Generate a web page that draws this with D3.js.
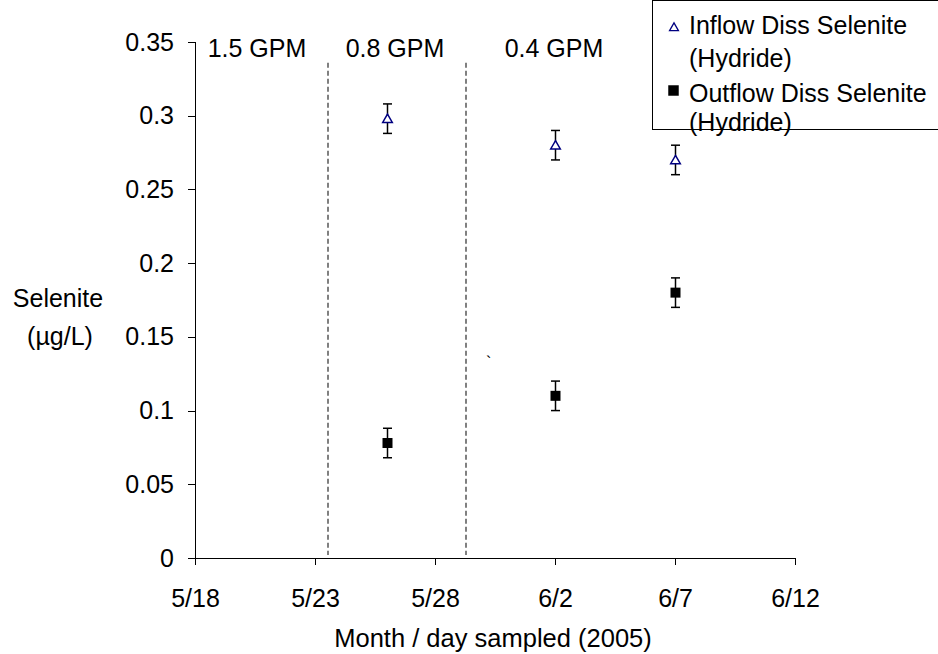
<!DOCTYPE html>
<meta charset="utf-8">
<style>
	body{ margin:0; background:#fff; }
	text{ font-family: Arial, "Liberation Sans", sans-serif; fill:#000; }
	.axis path, .axis line{ stroke:#000; stroke-width:1; shape-rendering:crispEdges; }
	.axis text{ font-size:25px; font-family: Arial, "Liberation Sans", sans-serif; }
</style>
<body>
<svg width="938" height="654" id="chart"></svg>
<script src="https://d3js.org/d3.v7.min.js"></script>
<script>
	// data
	var xTicks = ["2005-05-18","2005-05-23","2005-05-28","2005-06-02","2005-06-07","2005-06-12"];
	var yTicks = [0, 0.05, 0.1, 0.15, 0.2, 0.25, 0.3, 0.35];
	var sampleDates = ["2005-05-26","2005-06-02","2005-06-07"];
	var inflow = [0.298, 0.28, 0.27];
	var outflow = [0.078, 0.11, 0.18];
	var errInflow = [0.01, 0.01, 0.01];
	var errOutflow = [0.01, 0.01, 0.01];
	var flowBreaks = ["2005-05-23T13:00","2005-05-29T07:00"];
	var flowLabels = [
		{ label:"1.5 GPM", at:"2005-05-20T14:00" },
		{ label:"0.8 GPM", at:"2005-05-26T08:00" },
		{ label:"0.4 GPM", at:"2005-06-01T23:00" }
	];

	var parse = d3.timeParse("%Y-%m-%d");
	var parseT = d3.timeParse("%Y-%m-%dT%H:%M");

	var svg = d3.select("#chart");
	var x = d3.scaleTime()
		.domain([parse(xTicks[0]), parse(xTicks[xTicks.length-1])])
		.range([195, 795]);
	var y = d3.scaleLinear().domain([0, 0.35]).range([558, 42]);

	// dashed flow-rate dividers
	svg.selectAll("line.brk").data(flowBreaks).enter().append("line")
		.attr("class","brk")
		.attr("x1", d => x(parseT(d))).attr("x2", d => x(parseT(d)))
		.attr("y1", y(0.336)).attr("y2", y(0.002))
		.attr("stroke","#808080").attr("stroke-width",2)
		.attr("stroke-dasharray","5,3");

	svg.selectAll("text.gpm").data(flowLabels).enter().append("text")
		.attr("class","gpm")
		.attr("x", d => x(parseT(d.at))).attr("y", 57)
		.attr("text-anchor","middle").style("font-size","25px")
		.text(d => d.label);

	// axes
	var yAxis = d3.axisLeft(y).tickValues(yTicks).tickSize(7).tickPadding(14)
		.tickFormat(d => d === 0 ? "0" : String(+d.toFixed(2)));
	svg.append("g").attr("class","axis").attr("transform","translate(195,0)").call(yAxis)
		.call(g => g.select(".domain").attr("d","M0,42V558"));

	var xAxis = d3.axisBottom(x).tickValues(xTicks.map(parse)).tickSize(7).tickPadding(24)
		.tickFormat(d3.timeFormat("%-m/%-d"));
	svg.append("g").attr("class","axis").attr("transform","translate(0,558)").call(xAxis)
		.call(g => g.select(".domain").attr("d","M195,0H795"));

	// error bars
	function errBars(vals, errs){
		var g = svg.append("g").attr("stroke","#000").attr("stroke-width",1.5);
		sampleDates.forEach(function(dt, i){
			var cx = Math.round(x(parse(dt))) + 0.5;
			var yt = y(vals[i] + errs[i]), yb = y(vals[i] - errs[i]);
			g.append("line").attr("x1",cx).attr("x2",cx).attr("y1",yt).attr("y2",yb);
			g.append("line").attr("x1",cx-4.5).attr("x2",cx+4.5).attr("y1",yt).attr("y2",yt);
			g.append("line").attr("x1",cx-4.5).attr("x2",cx+4.5).attr("y1",yb).attr("y2",yb);
		});
	}
	errBars(inflow, errInflow);
	errBars(outflow, errOutflow);

	var tri = d3.symbol().type(d3.symbolTriangle).size(40);
	var sq = d3.symbol().type(d3.symbolSquare).size(100);

	svg.selectAll("path.inflow").data(inflow).enter().append("path")
		.attr("class","inflow")
		.attr("d", tri)
		.attr("transform", (d,i) => "translate(" + (Math.round(x(parse(sampleDates[i])))+0.5) + "," + (y(d)+1) + ")")
		.attr("fill","#fff").attr("stroke","#000080").attr("stroke-width",1.5);

	svg.selectAll("path.outflow").data(outflow).enter().append("path")
		.attr("class","outflow")
		.attr("d", sq)
		.attr("transform", (d,i) => "translate(" + (Math.round(x(parse(sampleDates[i])))+0.5) + "," + y(d) + ")")
		.attr("fill","#000");

	// stray mark in the original
	svg.append("text").attr("x",486).attr("y",368).style("font-size","16px").text("`");

	// axis titles
	svg.append("text").attr("x",493).attr("y",647).attr("text-anchor","middle")
		.style("font-size","25.5px").text("Month / day sampled (2005)");
	svg.append("text").attr("x",58).attr("y",307).attr("text-anchor","middle")
		.style("font-size","25px").text("Selenite");
	svg.append("text").attr("x",60).attr("y",345).attr("text-anchor","middle")
		.style("font-size","25px").text("(µg/L)");

	// legend
	var leg = svg.append("g");
	leg.append("rect").attr("x",652.5).attr("y",0.5).attr("width",290).attr("height",129)
		.attr("fill","#fff").attr("stroke","#000").attr("stroke-width",1);
	leg.append("path").attr("d", d3.symbol().type(d3.symbolTriangle).size(34))
		.attr("transform","translate(674,28)")
		.attr("fill","#fff").attr("stroke","#000080").attr("stroke-width",1.3);
	leg.append("path").attr("d", d3.symbol().type(d3.symbolSquare).size(110))
		.attr("transform","translate(673.5,90.5)").attr("fill","#000");
	[["Inflow Diss Selenite",34],["(Hydride)",67],["Outflow Diss Selenite",102],["(Hydride)",131]]
		.forEach(function(t){
			leg.append("text").attr("x",689).attr("y",t[1]).style("font-size","25px").text(t[0]);
		});
</script>
</body>
